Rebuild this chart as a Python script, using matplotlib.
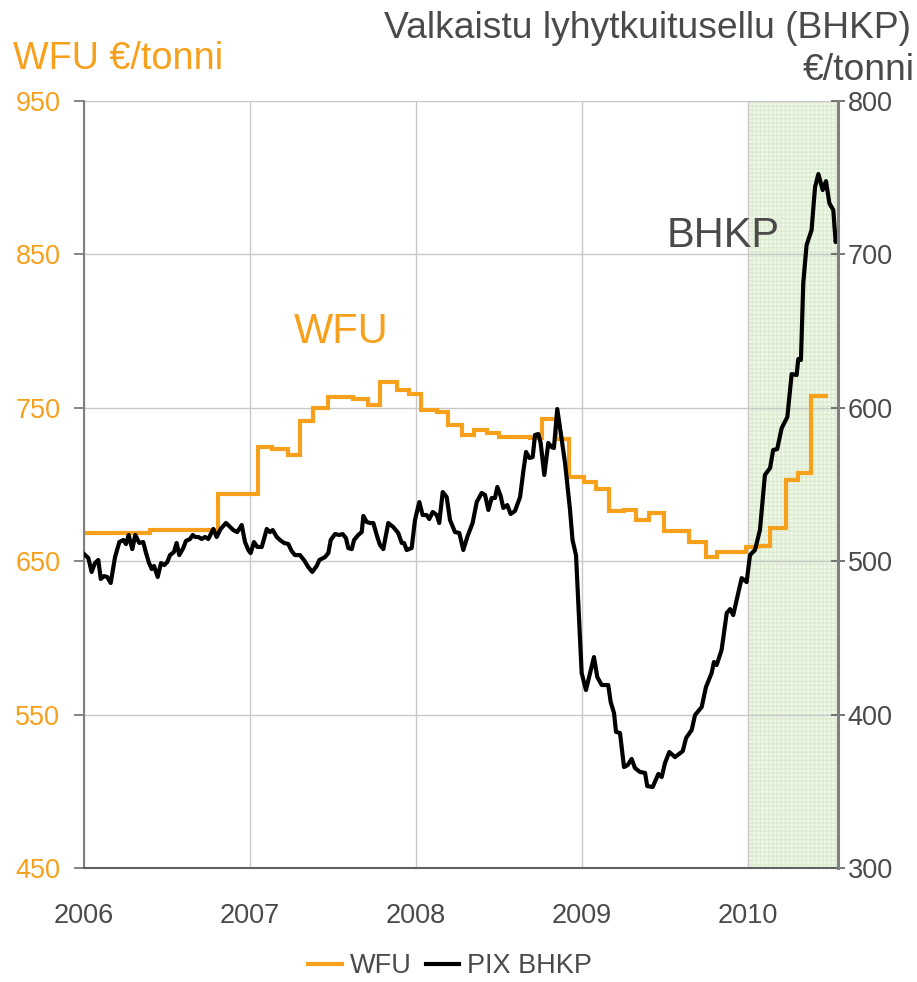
import matplotlib
matplotlib.use('Agg')
import matplotlib.pyplot as plt

plt.rcParams['font.family'] = ['Liberation Sans', 'DejaVu Sans']

# WFU, left axis (step series, value holds until next date)
wfu_years = [2006.000, 2006.398, 2006.807, 2007.048, 2007.133, 2007.229, 2007.301, 2007.380,
             2007.470, 2007.620, 2007.711, 2007.783, 2007.886, 2007.958, 2008.030, 2008.127,
             2008.193, 2008.277, 2008.349, 2008.428, 2008.500, 2008.687, 2008.759, 2008.843,
             2008.922, 2009.012, 2009.084, 2009.163, 2009.253, 2009.325, 2009.404, 2009.494,
             2009.645, 2009.747, 2009.813, 2009.988, 2010.054, 2010.133, 2010.229, 2010.301,
             2010.380, 2010.470]
wfu_values = [668.6, 670.3, 693.8, 724.4, 723.1, 719.2, 741.4, 749.9,
              757.0, 755.7, 751.8, 766.8, 761.6, 759.0, 748.6, 747.3,
              738.8, 732.3, 735.5, 733.6, 731.0, 730.3, 742.7, 729.7,
              704.9, 701.6, 697.1, 682.7, 683.4, 676.9, 681.4, 669.7,
              662.5, 652.7, 656.0, 659.3, 659.9, 671.6, 702.9, 707.5,
              757.7, 757.7]

# PIX BHKP, right axis (weekly)
bhkp_years = [
    2006.000, 2006.026, 2006.046, 2006.066, 2006.086, 2006.101, 2006.120, 2006.140, 2006.161, 2006.187,
    2006.213, 2006.237, 2006.253, 2006.269, 2006.291, 2006.309, 2006.333, 2006.357, 2006.372, 2006.392,
    2006.408, 2006.422, 2006.444, 2006.464, 2006.484, 2006.502, 2006.518, 2006.542, 2006.558, 2006.574,
    2006.598, 2006.614, 2006.639, 2006.655, 2006.669, 2006.689, 2006.709, 2006.729, 2006.749, 2006.779,
    2006.799, 2006.823, 2006.855, 2006.875, 2006.899, 2006.923, 2006.950, 2006.970, 2006.990,
    2007.004, 2007.024, 2007.044, 2007.071, 2007.101, 2007.120, 2007.137, 2007.161, 2007.181, 2007.205,
    2007.231, 2007.251, 2007.271, 2007.301, 2007.325, 2007.351, 2007.375, 2007.402, 2007.418, 2007.452,
    2007.472, 2007.486, 2007.512, 2007.538, 2007.558, 2007.578, 2007.592, 2007.613, 2007.627, 2007.652,
    2007.673, 2007.683, 2007.703, 2007.723, 2007.743, 2007.767, 2007.783, 2007.803, 2007.833, 2007.863,
    2007.893, 2007.914, 2007.928, 2007.944, 2007.974, 2007.994,
    2008.020, 2008.040, 2008.064, 2008.080, 2008.101, 2008.125, 2008.140, 2008.161, 2008.185, 2008.205,
    2008.235, 2008.261, 2008.285, 2008.309, 2008.341, 2008.366, 2008.396, 2008.416, 2008.436, 2008.456,
    2008.476, 2008.490, 2008.510, 2008.526, 2008.550, 2008.570, 2008.596, 2008.627, 2008.646, 2008.663,
    2008.683, 2008.703, 2008.717, 2008.737, 2008.751, 2008.773, 2008.797, 2008.817, 2008.831, 2008.851,
    2008.867, 2008.898, 2008.928, 2008.943, 2008.964, 2008.998,
    2009.024, 2009.072, 2009.092, 2009.119, 2009.158, 2009.173, 2009.193, 2009.205, 2009.229, 2009.253,
    2009.275, 2009.299, 2009.319, 2009.349, 2009.380, 2009.393, 2009.426, 2009.460, 2009.480, 2009.500,
    2009.526, 2009.560, 2009.607, 2009.627, 2009.661, 2009.681, 2009.721, 2009.747, 2009.781, 2009.795,
    2009.811, 2009.841, 2009.872, 2009.892, 2009.911, 2009.932, 2009.962, 2009.992,
    2010.012, 2010.042, 2010.072, 2010.102, 2010.133, 2010.152, 2010.176, 2010.203, 2010.237, 2010.263,
    2010.293, 2010.303, 2010.319, 2010.333, 2010.353, 2010.383, 2010.404, 2010.424, 2010.450, 2010.470,
    2010.490, 2010.514, 2010.528, 2010.541]
bhkp_values = [
    504.7, 502.1, 493.0, 498.8, 500.8, 488.4, 490.3, 489.7, 485.8, 502.7,
    512.5, 513.8, 511.2, 517.1, 507.9, 517.1, 511.9, 512.5, 506.0, 498.8,
    494.9, 496.9, 489.7, 498.8, 497.5, 499.5, 504.0, 506.0, 511.9, 504.0,
    508.6, 513.2, 514.5, 517.1, 515.8, 515.8, 514.5, 515.8, 514.5, 521.0,
    515.8, 521.0, 524.9, 522.9, 520.3, 519.0, 523.6, 512.5, 507.3,
    505.3, 512.5, 509.3, 509.3, 521.0, 519.0, 520.3, 515.8, 513.8, 511.9,
    511.2, 506.6, 504.0, 504.0, 500.8, 496.2, 493.0, 496.9, 500.8, 502.7,
    505.3, 513.8, 517.7, 517.1, 517.7, 515.1, 508.6, 507.9, 513.8, 517.1,
    519.0, 529.5, 525.6, 524.9, 524.9, 515.8, 510.6, 507.9, 524.9, 522.3,
    518.4, 511.9, 511.9, 507.3, 508.6, 526.9,
    538.6, 530.1, 530.1, 527.5, 532.1, 530.1, 524.9, 545.1, 541.8, 526.9,
    519.0, 518.4, 507.3, 515.8, 524.9, 538.6, 544.5, 543.2, 533.4, 541.2,
    541.2, 548.4, 542.5, 534.7, 536.6, 530.8, 532.7, 541.8, 558.1, 571.2,
    567.3, 567.9, 582.3, 582.9, 577.1, 556.2, 577.1, 574.4, 573.8, 599.2,
    587.5, 564.0, 533.4, 513.8, 504.0, 427.1,
    416.0, 437.5, 424.5, 419.3, 419.3, 408.2, 401.0, 388.7, 388.0, 365.8,
    367.1, 371.1, 365.2, 362.6, 362.0, 353.4, 352.8, 361.3, 359.3, 368.4,
    375.6, 372.3, 376.2, 384.7, 390.0, 399.7, 404.9, 418.0, 427.1, 434.3,
    432.3, 442.1, 466.2, 468.8, 464.9, 474.7, 489.0, 486.4,
    504.0, 507.3, 520.3, 556.2, 560.8, 572.5, 573.1, 586.8, 594.0, 622.0,
    621.4, 631.8, 631.2, 681.4, 706.1, 715.9, 743.9, 752.4, 742.0, 747.8,
    733.5, 728.9, 708.1, 714.0]

years = [2006, 2007, 2008, 2009, 2010]
left_ticks = [450, 550, 650, 750, 850, 950]
right_ticks = [300, 400, 500, 600, 700, 800]
forecast_start = 2010.0
x_end = 2010.542

orange = '#F7A01C'
text_grey = '#4a4a4a'

fig = plt.figure(figsize=(9.17, 9.82), dpi=100)
ax = fig.add_axes([0.0916, 0.1161, 0.8222, 0.7810])
ax2 = ax.twinx()

ax.axvspan(forecast_start, x_end, facecolor='#f1f8eb', edgecolor='#dcecd0',
           hatch='++++', linewidth=0, zorder=0.2)

ax.plot(wfu_years, wfu_values, drawstyle='steps-post', color=orange, lw=3.0,
        label='WFU', solid_joinstyle='miter')
ax2.plot(bhkp_years, bhkp_values, color='black', lw=3.0, label='PIX BHKP')

ax.set_xlim(2006, x_end)
ax.set_ylim(450, 950)
ax2.set_ylim(300, 800)

ax.set_axisbelow(True)
ax.set_xticks(years)
ax.set_xticklabels([str(y) for y in years])
ax.set_yticks(left_ticks)
ax2.set_yticks(right_ticks)
ax.grid(True, color='#c8c8c8', lw=1.0)

ax.tick_params(axis='x', length=0, pad=25, labelsize=19.5, labelcolor=text_grey)
ax.tick_params(axis='y', direction='out', length=7, width=1.2, color='#707070',
               pad=10, labelsize=19.5, labelcolor=orange)
ax2.tick_params(axis='y', direction='inout', length=10, width=1.2, color='#606060',
                pad=2, labelsize=19.5, labelcolor=text_grey)

for a in (ax, ax2):
    a.spines['top'].set_visible(False)
ax.spines['right'].set_visible(False)
ax.spines['left'].set_color('#808080')
ax.spines['left'].set_linewidth(1.5)
ax.spines['bottom'].set_color('#606060')
ax.spines['bottom'].set_linewidth(1.5)
ax2.spines['left'].set_visible(False)
ax2.spines['bottom'].set_visible(False)
ax2.spines['right'].set_color('#808080')
ax2.spines['right'].set_linewidth(2.2)

# series labels inside the plot
ax.text(2007.265, 792.4, 'WFU', color=orange, fontsize=30, va='baseline', ha='left')
ax.text(2009.512, 854.8, 'BHKP', color=text_grey, fontsize=30, va='baseline', ha='left')

# axis titles
fig.text(0.0142, 0.9297, 'WFU €/tonni', color=orange, fontsize=27.2, va='baseline', ha='left')
fig.text(0.993, 0.9613, 'Valkaistu lyhytkuitusellu (BHKP)', color=text_grey, fontsize=26.8,
         va='baseline', ha='right')
fig.text(0.998, 0.9185, '€/tonni', color=text_grey, fontsize=26.8, va='baseline', ha='right')

h1, l1 = ax.get_legend_handles_labels()
h2, l2 = ax2.get_legend_handles_labels()
fig.legend(h1 + h2, l1 + l2, loc='center', bbox_to_anchor=(0.491, 0.0163), ncol=2,
           frameon=False, fontsize=19.5, handlelength=1.25, handletextpad=0.3,
           columnspacing=0.5, labelcolor=text_grey)

fig.savefig('out.png', dpi=100)
